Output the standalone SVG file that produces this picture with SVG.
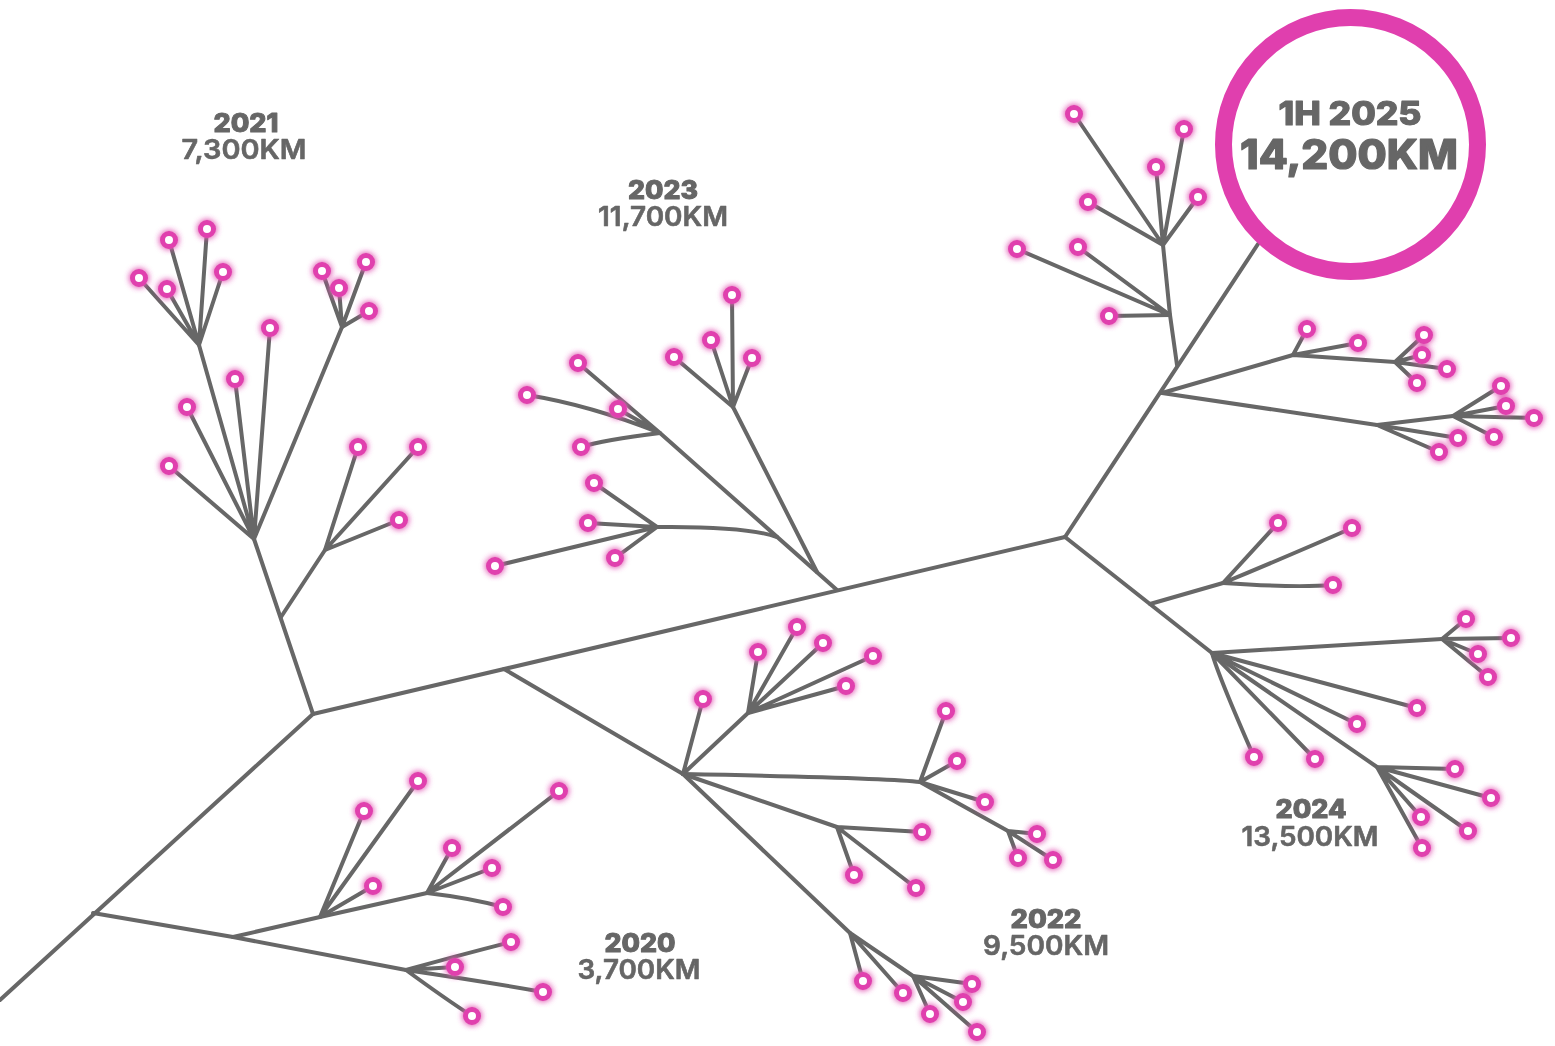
<svg xmlns="http://www.w3.org/2000/svg" xmlns:xlink="http://www.w3.org/1999/xlink" width="1555" height="1046" viewBox="0 0 1555 1046">
  <style>
    .br { fill: none; stroke: #676767; stroke-width: 4; stroke-linecap: round; stroke-linejoin: round; }
    .lbl { font-family: Inter, "Liberation Sans", sans-serif; fill: #666666; stroke: #666666; stroke-linejoin: round; text-anchor: middle; }
    .yr { font-weight: 800; font-size: 26px; stroke-width: 1; }
    .km { font-weight: 600; font-size: 27px; stroke-width: 0.6; }
    .big1 { font-weight: 800; font-size: 32px; stroke-width: 1.1; }
    .big2 { font-weight: 800; font-size: 41px; stroke-width: 1.2; }
  </style>
  <defs>
    <filter id="glow" x="-50%" y="-50%" width="200%" height="200%">
      <feGaussianBlur in="SourceGraphic" stdDeviation="3.2" result="b"/>
      <feComponentTransfer in="b" result="bb"><feFuncA type="linear" slope="1.4"/></feComponentTransfer>
      <feMerge><feMergeNode in="bb"/><feMergeNode in="SourceGraphic"/></feMerge>
    </filter>
    <circle id="dot" r="6.5" fill="#ffffff" stroke="#e03fae" stroke-width="5"/>
  </defs>
  <rect width="1555" height="1046" fill="#ffffff"/>

  <g id="connectors" class="br">
    <!-- trunk and main limb -->
    <path d="M0,1000 L313,714"/>
    <path d="M313,714 L1065,537"/>
    <path d="M1065,537 L1258,244"/>

    <!-- 2020 -->
    <path d="M93,913 L233,937 L406,970"/>
    <path d="M233,937 L320,917 L427,893"/>
    <path d="M320,917 L364,811 M320,917 L418,781 M320,917 L373,886"/>
    <path d="M427,893 L452,848 M427,893 L559,791 M427,893 L492,868 M427,893 Q470,898 503,907"/>
    <path d="M406,970 Q460,955 511,942 M406,970 L455,967 M406,970 Q487,982 543,992 M406,970 Q447,1000 472,1016"/>

    <!-- 2021 -->
    <path d="M313,714 L254,539"/>
    <path d="M281,617 L325,550"/>
    <path d="M325,550 L358,447 M325,550 L418,447 M325,550 L399,520"/>
    <path d="M254,539 L199,345 M254,539 L270,328 M254,539 L235,379 M254,539 L187,407 M254,539 L169,466 M254,539 L342,327"/>
    <path d="M199,345 L139,278 M199,345 L169,240 M199,345 L207,229 M199,345 L167,289 M199,345 L223,272"/>
    <path d="M342,327 L322,271 M342,327 L339,288 M342,327 L366,262 M342,327 L369,311"/>

    <!-- 2023 -->
    <path d="M837,590 L660,433"/>
    <path d="M817,572 L733,407"/>
    <path d="M657,527 Q745,526 777,537"/>
    <path d="M733,407 L732,295 M733,407 L711,340 M733,407 L674,357 M733,407 L752,358"/>
    <path d="M660,433 L578,363 M660,433 Q590,405 527,395 M660,433 L618,409 M660,433 Q603,440 581,447"/>
    <path d="M657,527 L594,483 M657,527 L588,523 M657,527 L495,566 M657,527 L615,558"/>

    <!-- 2022 -->
    <path d="M504,669 L683,774"/>
    <path d="M683,774 L703,699 M683,774 L748,713"/>
    <path d="M748,713 L758,652 M748,713 L797,627 M748,713 L823,643 M748,713 L873,656 M748,713 L846,686"/>
    <path d="M683,774 Q890,778 920,782"/>
    <path d="M920,782 L946,711 M920,782 L957,761 M920,782 L985,802 M920,782 L1008,831"/>
    <path d="M1008,831 L1037,834 M1008,831 L1018,858 M1008,831 L1053,860"/>
    <path d="M683,774 L837,827"/>
    <path d="M837,827 L922,832 M837,827 L854,875 M837,827 L916,888"/>
    <path d="M683,774 L850,933"/>
    <path d="M850,933 L863,981 M850,933 L903,993 M850,933 L913,976"/>
    <path d="M913,976 L972,984 M913,976 L963,1002 M913,976 L930,1014 M913,976 L977,1032"/>

    <!-- 2024 -->
    <path d="M1065,537 L1212,653"/>
    <path d="M1150,604 L1223,583"/>
    <path d="M1223,583 L1278,523 M1223,583 Q1300,551 1352,528 M1223,583 Q1295,588 1333,585"/>
    <path d="M1212,653 L1442,639"/>
    <path d="M1442,639 L1466,619 M1442,639 L1511,638 M1442,639 L1478,654 M1442,639 L1488,677"/>
    <path d="M1212,653 L1417,708 M1212,653 L1357,724 M1212,653 L1315,759 M1212,653 Q1218,675 1254,757"/>
    <path d="M1212,653 L1377,767"/>
    <path d="M1377,767 L1455,769 M1377,767 L1491,798 M1377,767 L1468,831 M1377,767 L1421,817 M1377,767 L1422,848"/>

    <!-- 1H 2025 -->
    <path d="M1162,393 L1293,355 L1395,362"/>
    <path d="M1293,355 L1307,329 M1293,355 L1358,343"/>
    <path d="M1395,362 L1424,335 M1395,362 L1422,355 M1395,362 L1447,369 M1395,362 L1417,383"/>
    <path d="M1162,393 L1377,425 L1453,416"/>
    <path d="M1453,416 L1501,386 M1453,416 L1506,406 M1453,416 L1534,418 M1453,416 L1494,437"/>
    <path d="M1377,425 L1458,438 M1377,425 L1439,452"/>
    <path d="M1177,365 L1170,315 L1163,245"/>
    <path d="M1163,245 L1074,114 M1163,245 L1156,167 M1163,245 L1184,129 M1163,245 L1088,202 M1163,245 L1198,197"/>
    <path d="M1170,315 L1017,249 M1170,315 L1078,247 M1170,315 L1109,316"/>
  </g>

  <g id="node-2020" filter="url(#glow)">
    <use href="#dot" x="364" y="811"/><use href="#dot" x="418" y="781"/><use href="#dot" x="373" y="886"/>
    <use href="#dot" x="452" y="848"/><use href="#dot" x="559" y="791"/><use href="#dot" x="492" y="868"/><use href="#dot" x="503" y="907"/>
    <use href="#dot" x="511" y="942"/><use href="#dot" x="455" y="967"/><use href="#dot" x="543" y="992"/><use href="#dot" x="472" y="1016"/>
  </g>
  <g id="node-2021" filter="url(#glow)">
    <use href="#dot" x="358" y="447"/><use href="#dot" x="418" y="447"/><use href="#dot" x="399" y="520"/>
    <use href="#dot" x="270" y="328"/><use href="#dot" x="235" y="379"/><use href="#dot" x="187" y="407"/><use href="#dot" x="169" y="466"/>
    <use href="#dot" x="139" y="278"/><use href="#dot" x="169" y="240"/><use href="#dot" x="207" y="229"/><use href="#dot" x="167" y="289"/><use href="#dot" x="223" y="272"/>
    <use href="#dot" x="322" y="271"/><use href="#dot" x="339" y="288"/><use href="#dot" x="366" y="262"/><use href="#dot" x="369" y="311"/>
  </g>
  <g id="node-2023" filter="url(#glow)">
    <use href="#dot" x="732" y="295"/><use href="#dot" x="711" y="340"/><use href="#dot" x="674" y="357"/><use href="#dot" x="752" y="358"/>
    <use href="#dot" x="578" y="363"/><use href="#dot" x="527" y="395"/><use href="#dot" x="618" y="409"/><use href="#dot" x="581" y="447"/>
    <use href="#dot" x="594" y="483"/><use href="#dot" x="588" y="523"/><use href="#dot" x="495" y="566"/><use href="#dot" x="615" y="558"/>
  </g>
  <g id="node-2022" filter="url(#glow)">
    <use href="#dot" x="703" y="699"/>
    <use href="#dot" x="758" y="652"/><use href="#dot" x="797" y="627"/><use href="#dot" x="823" y="643"/><use href="#dot" x="873" y="656"/><use href="#dot" x="846" y="686"/>
    <use href="#dot" x="946" y="711"/><use href="#dot" x="957" y="761"/><use href="#dot" x="985" y="802"/>
    <use href="#dot" x="1037" y="834"/><use href="#dot" x="1018" y="858"/><use href="#dot" x="1053" y="860"/>
    <use href="#dot" x="922" y="832"/><use href="#dot" x="854" y="875"/><use href="#dot" x="916" y="888"/>
    <use href="#dot" x="863" y="981"/><use href="#dot" x="903" y="993"/>
    <use href="#dot" x="972" y="984"/><use href="#dot" x="963" y="1002"/><use href="#dot" x="930" y="1014"/><use href="#dot" x="977" y="1032"/>
  </g>
  <g id="node-2024" filter="url(#glow)">
    <use href="#dot" x="1278" y="523"/><use href="#dot" x="1352" y="528"/><use href="#dot" x="1333" y="585"/>
    <use href="#dot" x="1466" y="619"/><use href="#dot" x="1511" y="638"/><use href="#dot" x="1478" y="654"/><use href="#dot" x="1488" y="677"/>
    <use href="#dot" x="1417" y="708"/><use href="#dot" x="1357" y="724"/><use href="#dot" x="1315" y="759"/><use href="#dot" x="1254" y="757"/>
    <use href="#dot" x="1455" y="769"/><use href="#dot" x="1491" y="798"/><use href="#dot" x="1468" y="831"/><use href="#dot" x="1421" y="817"/><use href="#dot" x="1422" y="848"/>
  </g>
  <g id="node-2025" filter="url(#glow)">
    <use href="#dot" x="1307" y="329"/><use href="#dot" x="1358" y="343"/>
    <use href="#dot" x="1424" y="335"/><use href="#dot" x="1422" y="355"/><use href="#dot" x="1447" y="369"/><use href="#dot" x="1417" y="383"/>
    <use href="#dot" x="1501" y="386"/><use href="#dot" x="1506" y="406"/><use href="#dot" x="1534" y="418"/><use href="#dot" x="1494" y="437"/>
    <use href="#dot" x="1458" y="438"/><use href="#dot" x="1439" y="452"/>
    <use href="#dot" x="1074" y="114"/><use href="#dot" x="1156" y="167"/><use href="#dot" x="1184" y="129"/><use href="#dot" x="1088" y="202"/><use href="#dot" x="1198" y="197"/>
    <use href="#dot" x="1017" y="249"/><use href="#dot" x="1078" y="247"/><use href="#dot" x="1109" y="316"/>
  </g>

  <!-- year labels: year on the first line, distance on the second -->
  <g id="label-2021">
    <text class="lbl"><tspan class="yr" x="246" y="132" textLength="65" lengthAdjust="spacingAndGlyphs">2021</tspan><tspan class="km" x="244" y="159" textLength="125" lengthAdjust="spacingAndGlyphs">7,300KM</tspan></text>
  </g>
  <g id="label-2023">
    <text class="lbl"><tspan class="yr" x="663" y="199" textLength="70" lengthAdjust="spacingAndGlyphs">2023</tspan><tspan class="km" x="663" y="226" textLength="130" lengthAdjust="spacingAndGlyphs">11,700KM</tspan></text>
  </g>
  <g id="label-2020">
    <text class="lbl"><tspan class="yr" x="640" y="952" textLength="71" lengthAdjust="spacingAndGlyphs">2020</tspan><tspan class="km" x="639" y="979" textLength="123" lengthAdjust="spacingAndGlyphs">3,700KM</tspan></text>
  </g>
  <g id="label-2022">
    <text class="lbl"><tspan class="yr" x="1046" y="928" textLength="71" lengthAdjust="spacingAndGlyphs">2022</tspan><tspan class="km" x="1046" y="955" textLength="126" lengthAdjust="spacingAndGlyphs">9,500KM</tspan></text>
  </g>
  <g id="label-2024">
    <text class="lbl"><tspan class="yr" x="1311" y="818" textLength="71" lengthAdjust="spacingAndGlyphs">2024</tspan><tspan class="km" x="1310" y="846" textLength="137" lengthAdjust="spacingAndGlyphs">13,500KM</tspan></text>
  </g>
  <g id="badge-2025">
    <circle cx="1350.5" cy="144.5" r="127" fill="#ffffff" stroke="#e03fae" stroke-width="17"/>
    <text class="lbl"><tspan class="big1" x="1350" y="125" textLength="143" lengthAdjust="spacingAndGlyphs">1H 2025</tspan><tspan class="big2" x="1349" y="169" textLength="218" lengthAdjust="spacingAndGlyphs">14,200KM</tspan></text>
  </g>
</svg>
